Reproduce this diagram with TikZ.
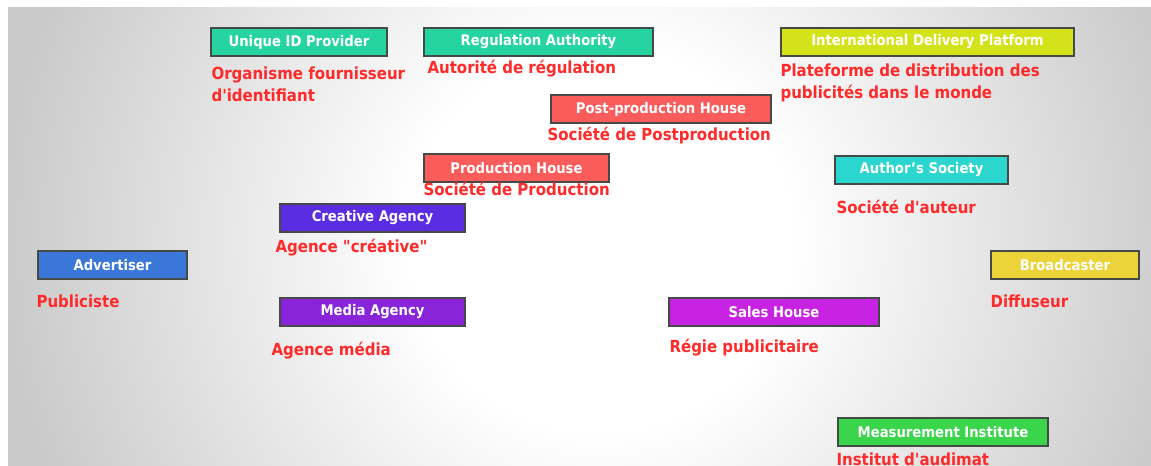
\documentclass[tikz,border=0pt]{standalone}
\usepackage{fontspec}
\setmainfont{DejaVu Sans Condensed}
\usetikzlibrary{positioning,calc}
\definecolor{frame}{HTML}{454A47}
\definecolor{frred}{HTML}{FF2A2A}
\definecolor{idgreen}{HTML}{26D4A1}
\definecolor{lime}{HTML}{D4E21A}
\definecolor{salmon}{HTML}{FA5C5C}
\definecolor{turq}{HTML}{2AD6CE}
\definecolor{violet}{HTML}{5A2DE2}
\definecolor{adblue}{HTML}{3A77D9}
\definecolor{gold}{HTML}{EDD33A}
\definecolor{purple}{HTML}{8A24D8}
\definecolor{magenta}{HTML}{C823E3}
\definecolor{mgreen}{HTML}{3AD54B}
\pgfdeclareradialshading{bgglow}{\pgfpoint{0bp}{0bp}}{color(0bp)=(white); color(4bp)=(white); color(12.5bp)=(gray!42); color(50bp)=(gray!42)}

\begin{document}
\begin{tikzpicture}[
  x=0.75pt, y=-0.75pt,
  wd/.style={minimum width=#1*0.75pt},
  actor/.style={draw=frame, line width=1.1pt, text=white, minimum height=21pt,
                inner sep=0pt, font=\bfseries\fontsize{11}{13}\selectfont},
  fr/.style={text=frred, anchor=base west, inner sep=0pt, align=left,
             font=\bfseries\fontsize{12.5}{17}\selectfont}
]
% background
\useasboundingbox (0,0) rectangle (1151,466);
\begin{scope}
  \clip (8,8) rectangle (1151,466);
  \shade[shading=bgglow] (600,240) circle (1200);
\end{scope}

% top row
\node[actor, fill=idgreen, wd=176] (uid) at (299,42) {Unique ID Provider};
\node[actor, fill=idgreen, wd=229] (reg) at (538.5,42) {Regulation Authority};
\node[actor, fill=lime, wd=293] (idp) at (927.5,42) {International Delivery Platform};
\node[fr] (uidfr) at ($(uid.south west)+(1,45)$) {Organisme fournisseur\\d\textquotesingle identifiant};
\node[fr] (regfr) at ($(reg.south west)+(4,17)$) {Autorité de régulation};
\node[fr] (idpfr) at ($(idp.south west)+(0,42)$) {Plateforme de distribution des\\publicités dans le monde};

% production
\node[actor, fill=salmon, wd=220] (post) at (661,109) {Post-production House};
\node[actor, fill=salmon, wd=185] (prod) at (516.5,168) {Production House};
\node[actor, fill=turq, wd=173] (auth) at (921.5,170) {Author's Society};
\node[fr] (postfr) at ($(post.south west)+(-3,17)$) {Société de Postproduction};
\node[fr] (prodfr) at ($(prod.south west)+(0,13)$) {Société de Production};
\node[fr] (authfr) at ($(auth.south west)+(2,29)$) {Société d\textquotesingle auteur};

% agencies, advertiser, broadcaster
\node[actor, fill=violet, wd=185] (crea) at (372.5,218) {Creative Agency};
\node[actor, fill=adblue, wd=149] (adv) at (112.5,265) {Advertiser};
\node[actor, fill=gold, wd=148] (brd) at (1065,265) {Broadcaster};
\node[actor, fill=purple, wd=185] (media) at (372.5,312) {Media Agency};
\node[actor, fill=magenta, wd=210] (sales) at (774,312) {Sales House};
\node[fr] (creafr) at ($(crea.south west)+(-4,20)$) {Agence \textquotedbl créative\textquotedbl};
\node[fr] (advfr) at ($(adv.south west)+(-1,28)$) {Publiciste};
\node[fr] (brdfr) at ($(brd.south west)+(0,28)$) {Diffuseur};
\node[fr] (mediafr) at ($(media.south west)+(-8,29)$) {Agence média};
\node[fr] (salesfr) at ($(sales.south west)+(1,26)$) {Régie publicitaire};

% measurement
\node[actor, fill=mgreen, wd=210] (meas) at (943,432) {Measurement Institute};
\node[fr] (measfr) at ($(meas.south west)+(-1,19)$) {Institut d\textquotesingle audimat};
\end{tikzpicture}
\end{document}
